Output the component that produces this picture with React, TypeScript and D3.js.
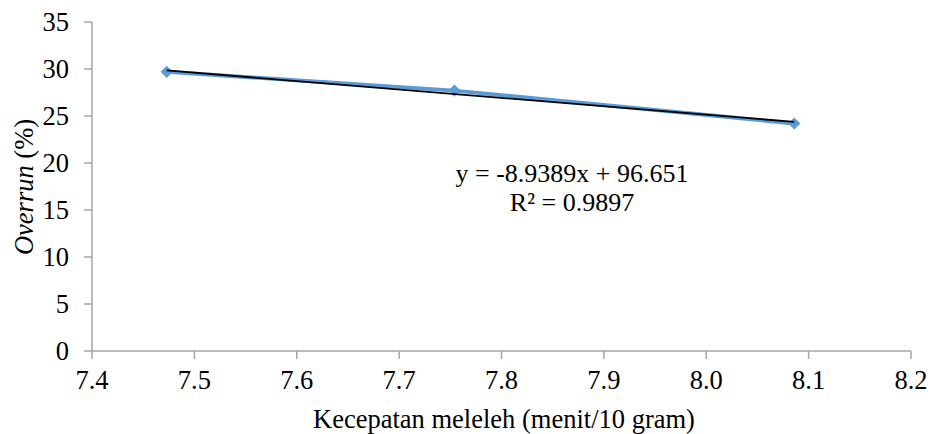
import React from 'react';
import * as d3 from 'd3';

const speed = [7.473, 7.754, 8.086];
const overrun = [29.7, 27.7, 24.2];
const xTicks = [7.4, 7.5, 7.6, 7.7, 7.8, 7.9, 8.0, 8.1, 8.2];
const yTicks = [0, 5, 10, 15, 20, 25, 30, 35];
const slope = -8.9389;
const intercept = 96.651;
const equation = 'y = -8.9389x + 96.651';
const rSquared = 'R² = 0.9897';

const W = 932;
const H = 434;
const FONT = 'Liberation Serif';
const left = 92, right = 911, top = 22, bottom = 351;

const x = d3.scaleLinear().domain([7.4, 8.2]).range([left, right]);
const y = d3.scaleLinear().domain([0, 35]).range([bottom, top]);
const axisColor = '#a6a6a6';
const blue = '#5b9bd5';

const pts = speed.map((s, i) => ({ s, o: overrun[i] }));
const line = d3.line<{ s: number; o: number }>().x(d => x(d.s)).y(d => y(d.o));
const diamond = d3.symbol().type(d3.symbolDiamond2).size(95)() as string;
const [x0, x1] = d3.extent(speed) as [number, number];
const fmt = d3.format('.1f');

const App = () => (
  <svg width={W} height={H} fontFamily={FONT} fontSize={26.5}
    style={{ position: 'absolute', left: 0, top: 0, background: '#fff' }}>
    {/* axes */}
    <line x1={left} x2={right} y1={bottom} y2={bottom} stroke={axisColor} strokeWidth={1.5} />
    <line x1={left} x2={left} y1={top} y2={bottom} stroke={axisColor} strokeWidth={1.5} />
    {xTicks.map(t => (
      <g key={t} transform={`translate(${x(t)},${bottom})`}>
        <line y2={8} stroke={axisColor} strokeWidth={1.5} />
        <text y={38} textAnchor="middle">{fmt(t)}</text>
      </g>
    ))}
    {yTicks.map(t => (
      <g key={t} transform={`translate(${left},${y(t)})`}>
        <line x2={-8} stroke={axisColor} strokeWidth={1.5} />
        <text x={-23} dy="0.34em" textAnchor="end">{t}</text>
      </g>
    ))}

    {/* series */}
    <path d={line(pts) as string} fill="none" stroke={blue} strokeWidth={4} />
    {pts.map((d, i) => (
      <path key={i} d={diamond} transform={`translate(${x(d.s)},${y(d.o)})`} fill={blue} />
    ))}

    {/* linear trendline */}
    <line x1={x(x0)} y1={y(slope * x0 + intercept)} x2={x(x1)} y2={y(slope * x1 + intercept)}
      stroke="#000" strokeWidth={1.8} />

    <g fontSize={26} textAnchor="middle">
      <text x={572} y={182}>{equation}</text>
      <text x={572} y={211}>{rSquared}</text>
    </g>

    <text x={504} y={428} textAnchor="middle">Kecepatan meleleh (menit/10 gram)</text>
    <text transform={`translate(33,187) rotate(-90)`} textAnchor="middle">
      <tspan fontStyle="italic">Overrun</tspan>
      <tspan> (%)</tspan>
    </text>
  </svg>
);

export default App;
